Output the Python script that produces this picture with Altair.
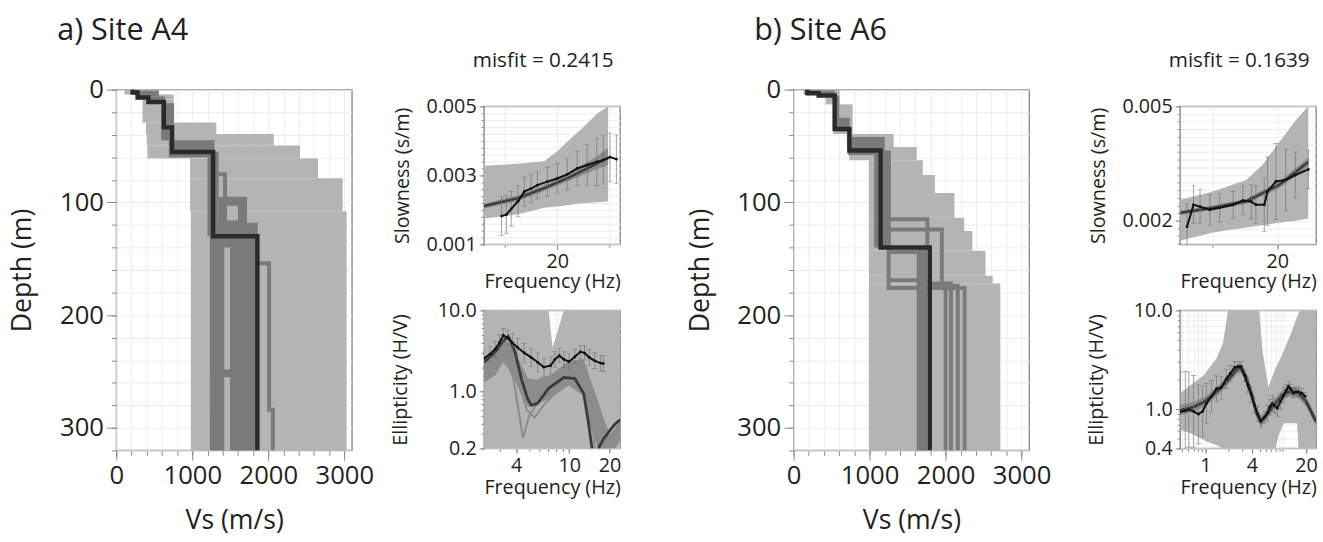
import altair as alt
import pandas as pd

FONT = "Open Sans"
LIGHT = "#b4b4b4"
MID = "#7a7a7a"
MODEL = "#8c8c8c"
BEST = "#2a2a2a"
OBS = "#111111"
ERR = "#6a6a6a"
FRAME = "#8a8a8a"
GRID = "#ececec"
INK = "#231f20"

# ---------------- Site A4 : Vs profiles ----------------
# layers: top depth (m), bottom depth (m), min Vs, max Vs (m/s)
a4_all_top = [0, 4.4, 8.7, 29.2, 39.4, 49.6, 61.2, 78.7, 107.8]
a4_all_bottom = [4.4, 8.7, 29.2, 39.4, 49.6, 61.2, 78.7, 107.8, 320]
a4_all_vmin = [107, 280, 345, 388, 400, 410, 971, 971, 980]
a4_all_vmax = [561, 755, 755, 1316, 2072, 2417, 2654, 2978, 3030]

a4_good_top = [1, 6, 12, 45, 55, 95, 118, 130]
a4_good_bottom = [6, 12, 45, 60, 130, 130, 131, 320]
a4_good_vmin = [250, 400, 590, 690, 1200, 1345, 1280, 1230]
a4_good_vmax = [560, 640, 760, 1290, 1345, 1720, 1860, 1850]

a4_gap_top = [103, 140, 255]
a4_gap_bottom = [116, 248, 320]
a4_gap_vmin = [1440, 1420, 1420]
a4_gap_vmax = [1600, 1495, 1495]

a4_line_vs = [[1345, 1430, 1430], [1856, 2010, 2010, 2060, 2060], [1230, 1270, 1270, 1345]]
a4_line_depth = [[75, 75, 130], [154, 154, 284, 284, 320], [248, 248, 284, 284]]

a4_best_bounds = [0, 2.5, 7, 11, 33.5, 55.4, 130, 320]
a4_best_vs = [215, 280, 422, 625, 733, 1273, 1856]

# ---------------- Site A4 : dispersion ----------------
a4_slow_env_f = [6, 12.5, 17.5, 20, 22.5, 25, 27.5, 29.7]
a4_slow_env_hi = [0.00328, 0.00334, 0.00341, 0.0037, 0.00406, 0.0044, 0.00477, 0.005]
a4_slow_env_lo = [0.00175, 0.00187, 0.00206, 0.0021, 0.00215, 0.0022, 0.00222, 0.00224]

a4_slow_band_f = [6, 12.5, 17.5, 22.5, 27.5, 29.7]
a4_slow_band_hi = [0.00218, 0.00242, 0.00272, 0.00308, 0.00355, 0.0038]
a4_slow_band_lo = [0.00204, 0.00226, 0.00255, 0.00286, 0.00318, 0.0033]
a4_slow_best = [0.00211, 0.00234, 0.00263, 0.00296, 0.00334, 0.0035]

a4_slow_obs_f = [9.33, 10.27, 11.2, 12.5, 13.7, 15.0, 16.2, 18.1, 20.0, 21.9, 23.8, 25.7, 27.55, 28.8, 30.06, 31.3]
a4_slow_obs = [0.00182, 0.00186, 0.00203, 0.00225, 0.00253, 0.00262, 0.00272, 0.00282,
               0.00291, 0.00303, 0.0032, 0.0033, 0.00339, 0.00345, 0.00353, 0.00347]
a4_slow_err = [0.00057, 0.00055, 0.0005, 0.00045, 0.00042, 0.0004, 0.0004, 0.00042,
               0.00043, 0.00045, 0.0005, 0.0006, 0.00068, 0.0007, 0.0007, 0.0007]

# ---------------- Site A4 : ellipticity ----------------
a4_ell_env_f = [2.3, 7.0, 7.5, 9.1, 24]
a4_ell_env_hi = [10, 10, 3.5, 10, 10]
a4_ell_env_lo = [0.2, 0.2, 0.2, 0.2, 0.2]

a4_ell_band_f = [2.3, 2.8, 3.2, 3.7, 4.4, 4.9, 5.6, 7.3, 9.9, 12.8, 14, 16.5, 18, 20, 22, 24]
a4_ell_band_hi = [2.3, 3.0, 4.4, 3.8, 2.1, 1.46, 1.4, 1.6, 2.4, 2.5, 1.6, 0.75, 0.48, 0.3, 0.35, 0.5]
a4_ell_band_lo = [1.3, 1.6, 2.3, 1.7, 0.9, 0.65, 0.7, 0.83, 1.2, 0.9, 0.4, 0.2, 0.2, 0.2, 0.2, 0.25]

a4_ell_model_f = [[2.3, 3.2, 3.8, 4.5, 5.0, 6, 8, 10, 12.8, 14, 15.5],
                  [2.3, 3.2, 4, 4.8, 5.5, 6.5, 8, 10, 13, 15, 17]]
a4_ell_model_v = [[1.5, 3.0, 1.5, 0.27, 0.5, 0.8, 1.2, 1.5, 1.6, 1.0, 0.2],
                  [1.4, 2.5, 1.6, 0.6, 0.48, 0.7, 1.0, 1.3, 1.4, 0.6, 0.2]]

a4_ell_best_f = [[2.3, 2.8, 3.2, 3.5, 3.9, 4.4, 4.9, 5.2, 5.8, 7, 9.1, 11, 12.8, 13.8, 14.8],
                 [16.5, 18, 20, 22, 24]]
a4_ell_best_v = [[2.3, 3.1, 4.2, 4.8, 3.2, 1.4, 0.8, 0.68, 0.72, 1.1, 1.5, 1.45, 0.95, 0.45, 0.2],
                 [0.2, 0.26, 0.33, 0.4, 0.45]]

a4_ell_obs_f = [2.3, 2.55, 2.78, 3.0, 3.2, 3.45, 3.75, 4.1, 4.6, 5.18, 5.8, 6.46,
                7.26, 7.8, 8.4, 9.1, 9.95, 11, 12.1, 13, 14.1, 15.5, 17.1, 18]
a4_ell_obs = [2.57, 2.9, 3.33, 4.0, 4.93, 4.6, 4.0, 3.5, 3.0, 2.64, 2.3, 2.0,
              2.1, 2.5, 2.77, 2.5, 2.34, 2.7, 3.09, 3.0, 2.64, 2.4, 2.25, 2.22]
a4_ell_errf = [1.25, 1.25, 1.25, 1.25, 1.22, 1.25, 1.3, 1.3, 1.3, 1.3, 1.3, 1.3,
               1.3, 1.25, 1.22, 1.25, 1.25, 1.22, 1.2, 1.22, 1.25, 1.25, 1.25, 1.25]

# ---------------- Site A6 : Vs profiles ----------------
b6_all_top = [0, 4.4, 13.1, 39.4, 51, 62.7, 75.8, 91.8, 113.7, 125.4, 142.9, 165, 172]
b6_all_bottom = [4.4, 13.1, 39.4, 51, 62.7, 75.8, 91.8, 113.7, 125.4, 142.9, 165, 172, 320]
b6_all_vmin = [130, 420, 520, 700, 730, 990, 990, 990, 990, 990, 990, 990, 990]
b6_all_vmax = [605, 605, 777, 1316, 1620, 1700, 1860, 2116, 2245, 2352, 2525, 2620, 2720]

b6_good_top = [1, 5.3, 25, 42, 54, 140]
b6_good_bottom = [5.3, 35, 37, 58, 140, 320]
b6_good_vmin = [170, 520, 540, 712, 1060, 1619]
b6_good_vmax = [540, 600, 740, 1200, 1280, 1760]

b6_gap_top = [146]
b6_gap_bottom = [167]
b6_gap_vmin = [1290]
b6_gap_vmax = [1600]

b6_line_vs = [[1145, 1760, 1760], [1145, 1950, 1950, 2000, 2000], [1250, 1250, 2250, 2250],
              [1250, 1620], [1250, 1620], [1800, 2070, 2070], [1800, 2160, 2160]]
b6_line_depth = [[115, 115, 140], [124, 124, 173, 173, 320], [140, 176, 176, 320],
                 [144, 144], [169, 169], [172, 172, 320], [174, 174, 320]]

b6_best_bounds = [0, 3, 5.3, 35, 54, 140, 320]
b6_best_vs = [180, 330, 540, 734, 1145, 1792]

# ---------------- Site A6 : dispersion ----------------
b6_slow_env_f = [5.05, 10.1, 15.2, 17.7, 20.3, 22.8, 24.8]
b6_slow_env_hi = [0.00255, 0.00277, 0.00307, 0.00346, 0.00406, 0.00462, 0.005]
b6_slow_env_lo = [0.00148, 0.00169, 0.00182, 0.00188, 0.00195, 0.002, 0.00206]

b6_slow_band_f = [5.05, 10.1, 15.2, 20.3, 24.8]
b6_slow_band_hi = [0.00227, 0.0024, 0.00258, 0.00303, 0.00366]
b6_slow_band_lo = [0.00215, 0.00228, 0.00244, 0.00285, 0.00342]
b6_slow_best = [0.00221, 0.00234, 0.00251, 0.00294, 0.00354]

b6_slow_obs_f = [6.07, 7.08, 8.09, 9.6, 11.1, 13.2, 14.7, 16.0, 16.7, 18.0, 18.5, 19.8, 21.3, 22.8, 24.8]
b6_slow_obs = [0.00184, 0.00242, 0.00237, 0.00229, 0.00234, 0.00242, 0.00253, 0.0025,
               0.00242, 0.00242, 0.00277, 0.00303, 0.00307, 0.0032, 0.00335]
b6_slow_err = [0.0006, 0.0005, 0.00045, 0.0004, 0.00037, 0.00035, 0.00038, 0.00045,
               0.0005, 0.0007, 0.0009, 0.001, 0.0008, 0.0006, 0.0005]

# ---------------- Site A6 : ellipticity ----------------
b6_ell_env_f = [0.47, 0.61, 0.94, 1.03, 1.4, 1.69, 1.96, 4.96, 5.5, 6.53, 8.06, 8.9, 10.3, 12.6, 15.3, 16.0, 16.8, 27]
b6_ell_env_hi = [1.44, 1.7, 2.19, 2.4, 3.3, 4.7, 10, 10, 3.8, 1.67, 2.6, 3.0, 3.9, 5.7, 8.6, 9.3, 10, 10]
b6_ell_env_lo = [0.62, 0.58, 0.49, 0.47, 0.43, 0.4, 0.4, 0.4, 0.4, 0.4, 0.4, 0.55, 0.72, 0.72, 0.72, 0.4, 0.4, 0.4]

b6_ell_band_f = [0.47, 0.7, 1.0, 1.4, 2.0, 2.5, 2.8, 3.3, 4.0, 4.6, 5.2, 6.0, 7.3, 8.5, 10, 12, 14, 16, 20, 24, 27]
b6_ell_band_hi = [1.1, 1.18, 1.34, 1.68, 2.24, 2.8, 2.97, 2.46, 1.57, 1.01, 0.84, 0.95, 1.18, 1.34, 1.57, 1.68, 1.68, 1.62, 1.34, 1.01, 0.84]
b6_ell_band_lo = [0.87, 0.94, 1.07, 1.34, 1.79, 2.23, 2.37, 1.96, 1.25, 0.8, 0.67, 0.76, 0.94, 1.07, 1.25, 1.34, 1.34, 1.29, 1.07, 0.8, 0.67]
b6_ell_best = [0.97, 1.05, 1.2, 1.5, 2.0, 2.5, 2.65, 2.2, 1.4, 0.9, 0.75, 0.85, 1.05, 1.2, 1.4, 1.5, 1.5, 1.45, 1.2, 0.9, 0.75]

b6_ell_obs_f = [0.47, 0.55, 0.61, 0.7, 0.81, 0.92, 1.03, 1.2, 1.39, 1.6, 1.86, 2.1, 2.38, 2.65, 2.9, 3.2, 3.53, 3.9,
                4.29, 4.75, 5.22, 5.75, 6.34, 6.8, 7.33, 7.9, 8.5, 9.4, 10.3, 11.1, 11.85, 12.7, 13.7, 14.8, 16.0,
                17.7, 19.5]
b6_ell_obs = [0.94, 0.96, 0.99, 0.95, 0.89, 0.95, 1.14, 1.35, 1.61, 1.65, 2.03, 2.3, 2.65, 2.7, 2.7, 2.2, 1.74, 1.4,
              1.1, 0.9, 0.76, 0.82, 0.91, 1.05, 1.14, 1.08, 1.02, 1.2, 1.38, 1.55, 1.7, 1.6, 1.45, 1.5, 1.5,
              1.45, 1.35]
b6_ell_errf = [2.5, 2.5, 2.4, 2.3, 2.0, 1.8, 1.6, 1.45, 1.35, 1.3, 1.25, 1.2, 1.15, 1.12, 1.12, 1.15, 1.2, 1.2,
               1.2, 1.2, 1.15, 1.15, 1.2, 1.2, 1.2, 1.2, 1.2, 1.2, 1.2, 1.15, 1.12, 1.12, 1.12, 1.12, 1.12,
               1.12, 1.1]

# ---------------- axis ticks ----------------
vs_minor = list(range(0, 3001, 200))
vs_major = [0, 1000, 2000, 3000]
depth_minor = list(range(0, 321, 20))
depth_major = [0, 100, 200, 300]
a4_slow_minor = [round(0.001 + 0.0002 * k, 4) for k in range(21)]
a4_slow_major = [0.001, 0.003, 0.005]
b6_slow_minor = [round(0.0014 + 0.0002 * k, 4) for k in range(19)]
b6_slow_major = [0.002, 0.005]
a4_freq_minor, a4_freq_major = [10, 20, 30], [20]
b6_freq_minor, b6_freq_major = [10, 20], [20]
a4_ell_f_minor = [3, 4, 5, 6, 7, 8, 9, 10, 20]
a4_ell_f_major = [4, 10, 20]
a4_ell_minor = [0.2, 0.3, 0.4, 0.5, 0.6, 0.7, 0.8, 0.9, 1, 2, 3, 4, 5, 6, 7, 8, 9, 10]
a4_ell_major = [0.2, 1, 10]
b6_ell_f_minor = [0.5, 0.6, 0.7, 0.8, 0.9, 1, 2, 3, 4, 5, 6, 7, 8, 9, 10, 20]
b6_ell_f_major = [1, 4, 20]
b6_ell_minor = [0.4, 0.5, 0.6, 0.7, 0.8, 0.9, 1, 2, 3, 4, 5, 6, 7, 8, 9, 10]
b6_ell_major = [0.4, 1, 10]

BIG_LABEL, BIG_TITLE, SITE_TITLE = 26, 27, 31
SMALL_LABEL, SMALL_TITLE, MISFIT = 20, 20, 21


# ---------------- helpers ----------------
def layer_frame(top, bottom, vmin, vmax):
    return pd.DataFrame({"top": top, "bottom": bottom, "vmin": vmin, "vmax": vmax})


def step_frame(bounds, vs):
    rows = []
    for i, v in enumerate(vs):
        rows.append({"vs": v, "depth": bounds[i]})
        rows.append({"vs": v, "depth": bounds[i + 1]})
    df = pd.DataFrame(rows)
    df["i"] = range(len(df))
    return df


def polyline_frame(xs_list, ys_list, xname, yname):
    rows = []
    for k, (xs, ys) in enumerate(zip(xs_list, ys_list)):
        for i, (x, y) in enumerate(zip(xs, ys)):
            rows.append({"id": k, "i": i, xname: x, yname: y})
    return pd.DataFrame(rows)


def minor_axis(values, tick, orient):
    # unlabelled ticks plus the light grid
    return alt.Axis(values=values, labels=False, tickSize=tick, tickColor=FRAME, orient=orient,
                    domain=False, grid=True, gridColor=GRID, title=None)


def major_axis(values, fmt, title, label_size, title_size, tick, pad, title_pad, orient):
    return alt.Axis(values=values, format=fmt, title=title, labelFontSize=label_size, orient=orient,
                    titleFontSize=title_size, tickSize=tick, tickColor=FRAME, domain=False,
                    grid=False, labelOverlap=False, labelFlush=False, labelPadding=pad,
                    titlePadding=title_pad)


def enc(field, chan, scale, axis):
    cls = alt.X if chan == "x" else alt.Y
    if axis is None:
        return cls(field, scale=scale, axis=None)
    return cls(field, scale=scale, axis=axis)


def profile_panel(all_df, good_df, gap_df, lines_df, best_df, title, title_dx):
    xs = alt.Scale(domain=[0, 3100], nice=False, zero=False)
    ys = alt.Scale(domain=[0, 320], nice=False, reverse=True)
    ax_minor = (minor_axis(vs_minor, 5, "bottom"), minor_axis(depth_minor, 5, "left"))
    ax_major = (major_axis(vs_major, "d", "Vs (m/s)", BIG_LABEL, BIG_TITLE, 10, 3, 19, "bottom"),
                major_axis(depth_major, "d", "Depth (m)", BIG_LABEL, BIG_TITLE, 10, 3, 23, "left"))

    def rects(df, color, axes):
        return alt.Chart(df).mark_rect(color=color).encode(
            x=enc("vmin:Q", "x", xs, axes[0]), x2="vmax:Q",
            y=enc("top:Q", "y", ys, axes[1]), y2="bottom:Q")

    lines = alt.Chart(lines_df).mark_line(color=MID, strokeWidth=4, clip=True).encode(
        x=enc("vs:Q", "x", xs, None), y=enc("depth:Q", "y", ys, None),
        detail="id:N", order="i:Q")
    best = alt.Chart(best_df).mark_line(color=BEST, strokeWidth=4.5, clip=True).encode(
        x=enc("vs:Q", "x", xs, None), y=enc("depth:Q", "y", ys, None), order="i:Q")
    return alt.layer(
        rects(all_df, LIGHT, ax_minor), rects(good_df, MID, ax_major),
        rects(gap_df, LIGHT, (None, None)), lines, best,
    ).resolve_scale(x="independent", y="independent").properties(
        width=239, height=366,
        title=alt.TitleParams(title, anchor="start", frame="group", dx=title_dx,
                              fontSize=SITE_TITLE, offset=30),
    )


def errorbars(ob, X, Y):
    return [
        alt.Chart(ob).mark_rule(color=ERR, strokeWidth=0.6, clip=True).encode(
            x=X("f"), y=Y("lo"), y2="hi:Q"),
        alt.Chart(ob).mark_tick(color=ERR, orient="horizontal", size=5, thickness=0.6,
                                clip=True).encode(x=X("f"), y=Y("lo")),
        alt.Chart(ob).mark_tick(color=ERR, orient="horizontal", size=5, thickness=0.6,
                                clip=True).encode(x=X("f"), y=Y("hi")),
    ]


def small_axes(xminor, xmajor, yminor, ymajor, yfmt, ytitle, ytitle_pad, xtitle_pad):
    return (
        (minor_axis(xminor, 3, "bottom"), minor_axis(yminor, 3, "left")),
        (major_axis(xmajor, "d", "Frequency (Hz)", SMALL_LABEL, SMALL_TITLE, 5, 2, xtitle_pad, "bottom"),
         major_axis(ymajor, yfmt, ytitle, SMALL_LABEL, SMALL_TITLE, 5, 3, ytitle_pad, "left")),
    )


def slowness_panel(env_f, env_hi, env_lo, band_f, band_hi, band_lo, best,
                   obs_f, obs, err, fdomain, sdomain, axes, misfit):
    xs = alt.Scale(domain=fdomain, nice=False, zero=False)
    ys = alt.Scale(domain=sdomain, nice=False, zero=False)

    def X(f, axis=None):
        return enc(f + ":Q", "x", xs, axis)

    def Y(f, axis=None):
        return enc(f + ":Q", "y", ys, axis)

    env = pd.DataFrame({"f": env_f, "hi": env_hi, "lo": env_lo})
    band = pd.DataFrame({"f": band_f, "hi": band_hi, "lo": band_lo, "best": best})
    ob = pd.DataFrame({"f": obs_f, "s": obs, "e": err})
    ob["lo"] = ob["s"] - ob["e"]
    ob["hi"] = ob["s"] + ob["e"]
    layers = [
        alt.Chart(env).mark_area(color=LIGHT, clip=True).encode(
            x=X("f", axes[0][0]), y=Y("hi", axes[0][1]), y2="lo:Q"),
        alt.Chart(band).mark_area(color=MODEL, clip=True).encode(
            x=X("f", axes[1][0]), y=Y("hi", axes[1][1]), y2="lo:Q"),
        alt.Chart(band).mark_line(color="#3a3a3a", strokeWidth=2.5, clip=True).encode(
            x=X("f"), y=Y("best")),
    ] + errorbars(ob, X, Y) + [
        alt.Chart(ob).mark_line(color=OBS, strokeWidth=2, clip=True,
                                point=alt.OverlayMarkDef(size=8, filled=True, color=OBS)).encode(
            x=X("f"), y=Y("s")),
    ]
    return alt.layer(*layers).resolve_scale(x="independent", y="independent").properties(
        width=138, height=140,
        title=alt.TitleParams(misfit, anchor="middle", fontSize=MISFIT, offset=26, dx=-9),
    )


def ellipticity_panel(env_f, env_hi, env_lo, band_f, band_hi, band_lo, models,
                      bests, obs_f, obs, errf, fdomain, edomain, axes):
    xs = alt.Scale(type="log", domain=fdomain, nice=False)
    ys = alt.Scale(type="log", domain=edomain, nice=False)

    def X(f, axis=None):
        return enc(f + ":Q", "x", xs, axis)

    def Y(f, axis=None):
        return enc(f + ":Q", "y", ys, axis)

    env = pd.DataFrame({"f": env_f, "hi": env_hi, "lo": env_lo})
    band = pd.DataFrame({"f": band_f, "hi": band_hi, "lo": band_lo})
    ob = pd.DataFrame({"f": obs_f, "v": obs, "k": errf})
    ob["lo"] = ob["v"] / ob["k"]
    ob["hi"] = ob["v"] * ob["k"]
    layers = [
        alt.Chart(env).mark_area(color=LIGHT, clip=True).encode(
            x=X("f", axes[0][0]), y=Y("hi", axes[0][1]), y2="lo:Q"),
        alt.Chart(band).mark_area(color=MODEL, clip=True).encode(
            x=X("f", axes[1][0]), y=Y("hi", axes[1][1]), y2="lo:Q"),
    ]
    if models is not None:
        layers.append(alt.Chart(models).mark_line(color=MODEL, strokeWidth=2, clip=True).encode(
            x=X("f"), y=Y("v"), detail="id:N", order="i:Q"))
    layers.append(alt.Chart(bests).mark_line(color="#3a3a3a", strokeWidth=2.8, clip=True).encode(
        x=X("f"), y=Y("v"), detail="id:N", order="i:Q"))
    layers += errorbars(ob, X, Y)
    layers.append(alt.Chart(ob).mark_line(color=OBS, strokeWidth=2, clip=True,
                                          point=alt.OverlayMarkDef(size=8, filled=True, color=OBS)).encode(
        x=X("f"), y=Y("v")))
    return alt.layer(*layers).resolve_scale(x="independent", y="independent").properties(
        width=138, height=140)


def spacer():
    return alt.Chart(pd.DataFrame({"v": [0]})).mark_point(opacity=0).properties(
        width=138, height=1, view=alt.ViewBackground(stroke="transparent"))


# ---------------- Site A4 ----------------
prof_a = profile_panel(
    layer_frame(a4_all_top, a4_all_bottom, a4_all_vmin, a4_all_vmax),
    layer_frame(a4_good_top, a4_good_bottom, a4_good_vmin, a4_good_vmax),
    layer_frame(a4_gap_top, a4_gap_bottom, a4_gap_vmin, a4_gap_vmax),
    polyline_frame(a4_line_vs, a4_line_depth, "vs", "depth"),
    step_frame(a4_best_bounds, a4_best_vs),
    "a) Site A4", -60,
)
slow_a = slowness_panel(
    a4_slow_env_f, a4_slow_env_hi, a4_slow_env_lo,
    a4_slow_band_f, a4_slow_band_hi, a4_slow_band_lo, a4_slow_best,
    a4_slow_obs_f, a4_slow_obs, a4_slow_err,
    [6, 32], [0.001, 0.005],
    small_axes(a4_freq_minor, a4_freq_major, a4_slow_minor, a4_slow_major, ".3f", "Slowness (s/m)", 14, 1),
    "misfit = 0.2415",
)
ell_a = ellipticity_panel(
    a4_ell_env_f, a4_ell_env_hi, a4_ell_env_lo,
    a4_ell_band_f, a4_ell_band_hi, a4_ell_band_lo,
    polyline_frame(a4_ell_model_f, a4_ell_model_v, "f", "v"),
    polyline_frame(a4_ell_best_f, a4_ell_best_v, "f", "v"),
    a4_ell_obs_f, a4_ell_obs, a4_ell_errf,
    [2.3, 24], [0.2, 10],
    small_axes(a4_ell_f_minor, a4_ell_f_major, a4_ell_minor, a4_ell_major, ".1f", "Ellipticity (H/V)", 27, 3),
)

# ---------------- Site A6 ----------------
prof_b = profile_panel(
    layer_frame(b6_all_top, b6_all_bottom, b6_all_vmin, b6_all_vmax),
    layer_frame(b6_good_top, b6_good_bottom, b6_good_vmin, b6_good_vmax),
    layer_frame(b6_gap_top, b6_gap_bottom, b6_gap_vmin, b6_gap_vmax),
    polyline_frame(b6_line_vs, b6_line_depth, "vs", "depth"),
    step_frame(b6_best_bounds, b6_best_vs),
    "b) Site A6", -40,
)
slow_b = slowness_panel(
    b6_slow_env_f, b6_slow_env_hi, b6_slow_env_lo,
    b6_slow_band_f, b6_slow_band_hi, b6_slow_band_lo, b6_slow_best,
    b6_slow_obs_f, b6_slow_obs, b6_slow_err,
    [5, 26], [0.00138, 0.005],
    small_axes(b6_freq_minor, b6_freq_major, b6_slow_minor, b6_slow_major, ".3f", "Slowness (s/m)", 14, 1),
    "misfit = 0.1639",
)
ell_b = ellipticity_panel(
    b6_ell_env_f, b6_ell_env_hi, b6_ell_env_lo,
    b6_ell_band_f, b6_ell_band_hi, b6_ell_band_lo,
    None,
    polyline_frame([b6_ell_band_f], [b6_ell_best], "f", "v"),
    b6_ell_obs_f, b6_ell_obs, b6_ell_errf,
    [0.47, 27], [0.4, 10],
    small_axes(b6_ell_f_minor, b6_ell_f_major, b6_ell_minor, b6_ell_major, ".1f", "Ellipticity (H/V)", 27, 3),
)


def site_block(prof, slow, ell, gap):
    column = alt.vconcat(
        spacer(),
        alt.vconcat(slow, ell, spacing=67, bounds="flush"),
        spacing=16, bounds="flush",
    )
    return alt.hconcat(prof, column, spacing=gap)


chart = alt.hconcat(
    site_block(prof_a, slow_a, ell_a, 15),
    site_block(prof_b, slow_b, ell_b, 34),
    spacing=64,
).properties(
    padding={"left": 8, "top": 11, "right": 5, "bottom": 5},
).configure_view(
    stroke=FRAME, strokeWidth=1.4,
).configure_axis(
    labelFont=FONT, titleFont=FONT, labelColor=INK, titleColor=INK, titleFontWeight="normal",
).configure_title(
    font=FONT, color=INK, fontWeight="normal",
)

chart.save("out.html", embed_options={"renderer": "svg", "actions": False})
